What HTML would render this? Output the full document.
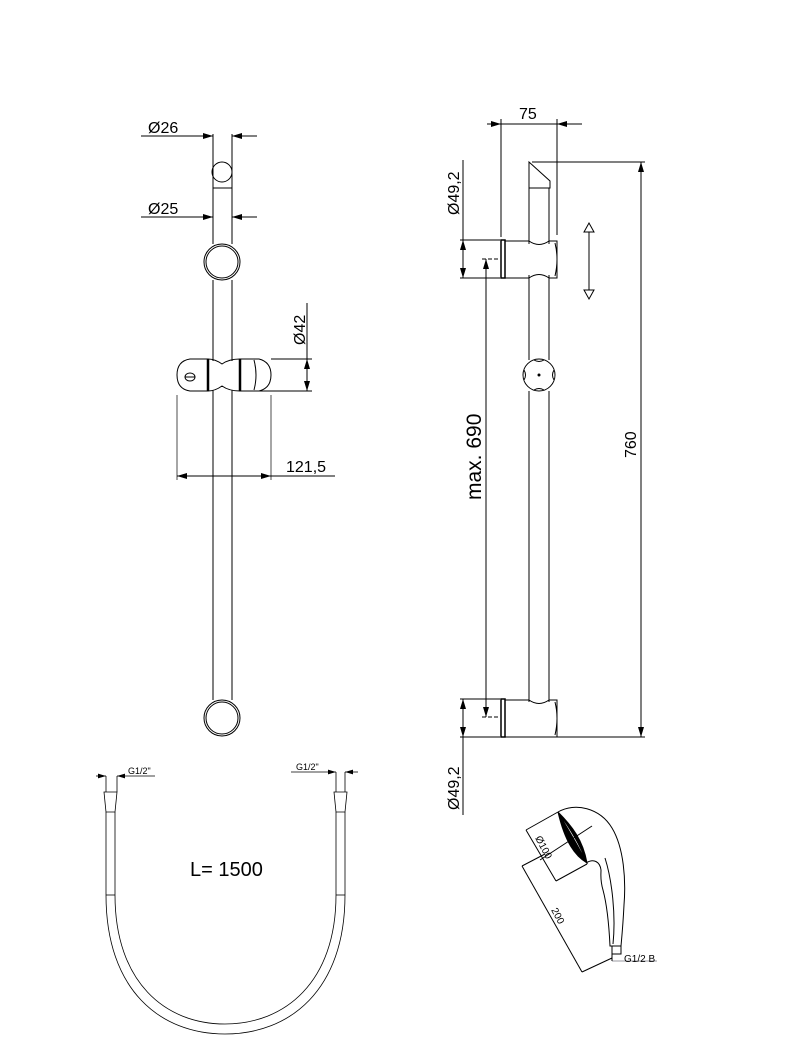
<!DOCTYPE html>
<html><head><meta charset="utf-8"><style>
html,body{margin:0;padding:0;background:#fff}
svg{display:block}
text{font-family:"Liberation Sans",sans-serif;fill:#000}
</style></head><body>
<svg width="799" height="1040" viewBox="0 0 799 1040" xmlns="http://www.w3.org/2000/svg">
<defs>
<marker id="a" viewBox="0 0 10 6" refX="10" refY="3" markerWidth="10" markerHeight="6" orient="auto-start-reverse"><path d="M0,0L10,3L0,6z" fill="#000"/></marker>
</defs>
<g stroke="#000" fill="none" stroke-width="1">
<!-- LEFT BAR -->
<line x1="213" y1="134" x2="213" y2="244"/><line x1="232" y1="134" x2="232" y2="244"/>
<line x1="213" y1="188" x2="232" y2="188"/>
<circle cx="222" cy="172" r="10"/>
<line x1="213" y1="280" x2="213" y2="361"/><line x1="232" y1="280" x2="232" y2="361"/>
<line x1="213" y1="390" x2="213" y2="700"/><line x1="232" y1="390" x2="232" y2="700"/>
<circle cx="222" cy="262" r="18"/><circle cx="222" cy="262" r="16"/>
<circle cx="222" cy="718" r="18"/><circle cx="222" cy="718" r="16"/>
<line x1="141" y1="136" x2="213" y2="136" marker-end="url(#a)"/>
<line x1="257" y1="136" x2="232" y2="136" marker-end="url(#a)"/>
<line x1="141" y1="217" x2="213" y2="217" marker-end="url(#a)"/>
<line x1="257" y1="217" x2="232" y2="217" marker-end="url(#a)"/>
<path d="M190,359 L208,359 Q215,359 222,364 Q229,359 240,359 L259,359 Q271,362 271,375 Q271,388 259,391 L240,391 Q229,391 222,386 Q215,391 208,391 L190,391 Q177,389 177,375 Q177,361 190,359 Z"/>
<line x1="208" y1="359" x2="208" y2="391" stroke-width="2.5"/>
<line x1="240" y1="359" x2="240" y2="391" stroke-width="2.5"/>
<path d="M254,360 Q258,375 254,390"/>
<ellipse cx="190" cy="377" rx="5" ry="4"/><line x1="185" y1="377" x2="195" y2="377"/>
<line x1="271" y1="359" x2="312" y2="359"/><line x1="240" y1="391" x2="312" y2="391"/>
<line x1="307" y1="303" x2="307" y2="391"/>
<line x1="307" y1="375" x2="307" y2="359" marker-end="url(#a)"/>
<line x1="307" y1="375" x2="307" y2="391" marker-end="url(#a)"/>
<line x1="177" y1="395" x2="177" y2="480" stroke-width=".7"/>
<line x1="271" y1="395" x2="271" y2="480" stroke-width=".7"/>
<line x1="222" y1="476" x2="177" y2="476" marker-end="url(#a)"/>
<line x1="222" y1="476" x2="271" y2="476" marker-end="url(#a)"/>
<line x1="271" y1="476" x2="335" y2="476"/>

<!-- RIGHT BAR -->
<path d="M529,162 L550,181 L550,188 L529,188 Z"/>
<line x1="529" y1="188" x2="529" y2="244"/><line x1="549" y1="188" x2="549" y2="244"/>
<line x1="529" y1="275" x2="529" y2="360"/><line x1="549" y1="275" x2="549" y2="360"/>
<line x1="529" y1="391" x2="529" y2="702"/><line x1="549" y1="391" x2="549" y2="702"/>
<circle cx="539" cy="375" r="16"/><circle cx="539" cy="375" r="1" fill="#000"/>
<path d="M524,370 Q527,375 524,380 M554,370 Q551,375 554,380 M534,360 Q539,363 544,360 M534,390 Q539,387 544,390"/>
<rect x="501" y="240" width="4" height="38" stroke-width="1.5"/>
<path d="M505,241 L529,241 Q539,248 549,241 L557,241 L557,278 L549,278 Q539,271 529,278 L505,278"/>
<path d="M555,243 Q559,259 555,276"/>
<rect x="501" y="699" width="4" height="38" stroke-width="1.5"/>
<path d="M505,700 L529,700 Q539,707 549,700 L557,700 L557,737 L505,737"/>
<path d="M555,702 Q559,718 555,735"/>
<line x1="501" y1="119" x2="501" y2="237"/>
<line x1="557" y1="119" x2="557" y2="235"/>
<line x1="487" y1="124" x2="501" y2="124" marker-end="url(#a)"/>
<line x1="582" y1="124" x2="557" y2="124" marker-end="url(#a)"/>
<line x1="501" y1="124" x2="557" y2="124"/>
<line x1="532" y1="162" x2="645" y2="162"/>
<line x1="505" y1="737" x2="645" y2="737"/>
<line x1="641" y1="450" x2="641" y2="162" marker-end="url(#a)"/>
<line x1="641" y1="450" x2="641" y2="737" marker-end="url(#a)"/>
<line x1="589" y1="230" x2="589" y2="292"/>
<path d="M584,232 L589,223 L594,232 Z M584,290 L589,299 L594,290 Z" fill="#fff"/>
<line x1="460" y1="240" x2="500" y2="240"/><line x1="460" y1="278" x2="500" y2="278"/>
<line x1="463" y1="160" x2="463" y2="278"/>
<line x1="463" y1="259" x2="463" y2="240" marker-end="url(#a)"/>
<line x1="463" y1="259" x2="463" y2="278" marker-end="url(#a)"/>
<line x1="460" y1="699" x2="500" y2="699"/><line x1="460" y1="737" x2="500" y2="737"/>
<line x1="463" y1="699" x2="463" y2="815"/>
<line x1="463" y1="718" x2="463" y2="699" marker-end="url(#a)"/>
<line x1="463" y1="718" x2="463" y2="737" marker-end="url(#a)"/>
<line x1="482" y1="259" x2="500" y2="259" stroke-dasharray="4,2"/>
<line x1="482" y1="717" x2="500" y2="717" stroke-dasharray="4,2"/>
<line x1="486" y1="480" x2="486" y2="259" marker-end="url(#a)"/>
<line x1="486" y1="480" x2="486" y2="717" marker-end="url(#a)"/>

<!-- HOSE -->
<g stroke-width=".8">
<path d="M104,792 L117,792 L115,812 L106,812 Z"/>
<path d="M334,792 L347,792 L345,812 L336,812 Z"/>
<line x1="106" y1="812" x2="106" y2="895"/><line x1="115" y1="812" x2="115" y2="895"/>
<line x1="336" y1="812" x2="336" y2="895"/><line x1="345" y1="812" x2="345" y2="895"/>
<line x1="106" y1="895" x2="115" y2="895"/><line x1="336" y1="895" x2="345" y2="895"/>
<path d="M106,895 C106,990 160,1034 225,1034 C290,1034 345,990 345,895"/>
<path d="M115,895 C115,982 165,1024 225,1024 C285,1024 336,982 336,895"/>
<line x1="106" y1="776" x2="106" y2="792"/><line x1="117" y1="776" x2="117" y2="792"/>
<line x1="96" y1="776" x2="106" y2="776" marker-end="url(#a)"/>
<line x1="155" y1="776" x2="117" y2="776" marker-end="url(#a)"/>
<line x1="336" y1="772" x2="336" y2="792"/><line x1="345" y1="772" x2="345" y2="792"/>
<line x1="291" y1="772" x2="336" y2="772" marker-end="url(#a)"/>
<line x1="358" y1="772" x2="345" y2="772" marker-end="url(#a)"/>
</g>

<!-- HAND SHOWER -->
<g stroke-width="1">
<path d="M558,812 C575,802 600,808 612,828 C624,848 626,880 624,905 C623,925 622,935 621,946 L610,946 C609,925 607,905 603,890 C600,880 601,875 601,870 C600,862 594,858 586,863"/>
<path d="M558,812 C566,826 575,840 587,863 C575,856 565,842 558,812 Z M558,812 C570,828 580,845 587,863 C583,840 572,826 558,812 Z" fill="#000"/>
<path d="M605,858 C612,880 616,915 613,944"/>
<rect x="612" y="946" width="9" height="8"/>
<line x1="612" y1="954" x2="612" y2="961"/><line x1="612" y1="961" x2="657" y2="961" stroke="#334" stroke-width=".6"/>
<line x1="526" y1="830" x2="558" y2="812"/><line x1="526" y1="830" x2="556" y2="881"/>
<line x1="556" y1="881" x2="587" y2="864"/>
<line x1="540" y1="860" x2="592" y2="826"/>
<line x1="522" y1="866" x2="545" y2="854"/>
<line x1="522" y1="866" x2="582" y2="972"/>
<line x1="582" y1="972" x2="612" y2="958"/>
</g>
</g>

<g font-size="16">
<text x="148" y="133">Ø26</text>
<text x="148" y="214">Ø25</text>
<text x="286" y="472">121,5</text>
<text x="519" y="119">75</text>
<text transform="translate(305,345) rotate(-90)">Ø42</text>
<text transform="translate(459,215) rotate(-90)">Ø49,2</text>
<text transform="translate(459,810) rotate(-90)">Ø49,2</text>
<text transform="translate(636,458) rotate(-90)">760</text>
</g>
<text transform="translate(481,500) rotate(-90)" font-size="21">max. 690</text>
<text x="128" y="774" font-size="9">G1/2"</text>
<text x="296" y="770" font-size="9">G1/2"</text>
<text x="190" y="876" font-size="20" fill="#333">L=  1500</text>
<text x="624" y="962" font-size="10" fill="#1a3a7a">G1/2 B</text>
<text transform="translate(535,838) rotate(62)" font-size="10">Ø100</text>
<text transform="translate(551,910) rotate(62)" font-size="10">200</text>
</svg>
</body></html>
